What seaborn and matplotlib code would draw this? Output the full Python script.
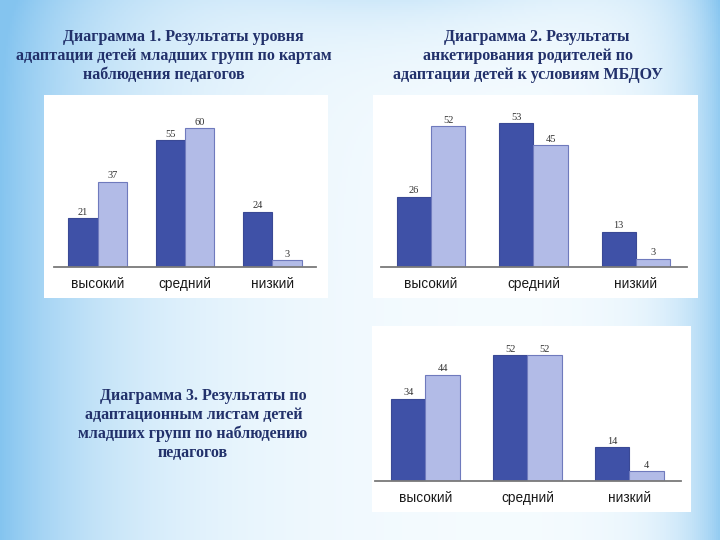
import numpy as np
import pandas as pd
import matplotlib
matplotlib.use('Agg')
import matplotlib.pyplot as plt
import seaborn as sns
from matplotlib.patches import Rectangle

# data
levels = ['высокий', 'средний', 'низкий']
series = ['ряд 1', 'ряд 2']
chart1_s1 = [21, 55, 24]
chart1_s2 = [37, 60, 3]
chart2_s1 = [26, 53, 13]
chart2_s2 = [52, 45, 3]
chart3_s1 = [34, 52, 14]
chart3_s2 = [44, 52, 4]

title1 = ['Диаграмма 1. Результаты уровня',
          'адаптации детей младших групп по картам',
          'наблюдения педагогов']
title2 = ['Диаграмма 2. Результаты',
          'анкетирования родителей по',
          'адаптации детей к условиям МБДОУ']
title3 = ['Диаграмма 3. Результаты по',
          'адаптационным листам детей',
          'младших групп по наблюдению',
          'педагогов']

W, H = 720, 540
DARK = '#3f51a7'
LIGHT = '#b2bbe7'
TITLE_COLOR = '#22316b'

sns.set_theme(style='white')
plt.rcParams['font.family'] = ['Liberation Sans', 'DejaVu Sans']


def px_box(x0, y0, x1, y1):
    """Pixel box (top-left origin) -> figure fraction rect."""
    return [x0 / W, (H - y1) / H, (x1 - x0) / W, (y1 - y0) / H]


fig = plt.figure(figsize=(7.2, 5.4), dpi=100)

# slide background: light blue edges fading into white
bg = fig.add_axes([0, 0, 1, 1])
xs = np.linspace(0, 1, 360)
ys = np.linspace(0, 1, 270)
X, Y = np.meshgrid(xs, ys)
blue = np.array([0.52, 0.77, 0.94])
white = np.array([0.97, 0.99, 1.0])
w = np.clip(np.exp(-X / 0.17) + 0.85 * np.exp(-(1 - X) / 0.06)
            + 0.3 * np.exp(-Y / 0.07) * (0.4 + 0.6 * np.exp(-((X - 0.55) / 0.2) ** 2)), 0, 1)
img = white[None, None, :] * (1 - w[..., None]) + blue[None, None, :] * w[..., None]
bg.imshow(img, extent=[0, 1, 0, 1], aspect='auto', origin='upper')
bg.set_xlim(0, 1)
bg.set_ylim(0, 1)
bg.axis('off')

# white chart panels
for (x0, y0, x1, y1) in [(44, 95, 328, 298), (373, 95, 698, 298), (372, 326, 691, 512)]:
    r = px_box(x0, y0, x1, y1)
    bg.add_patch(Rectangle((r[0], r[1]), r[2], r[3], facecolor='white',
                           edgecolor='none', transform=bg.transAxes))


def draw_chart(rect, s1, s2, ymax, xlim):
    ax = fig.add_axes(rect)
    df = pd.DataFrame({
        'level': levels * 2,
        'series': [series[0]] * 3 + [series[1]] * 3,
        'value': s1 + s2,
    })
    sns.barplot(data=df, x='level', y='value', hue='series', order=levels,
                hue_order=series, palette=[DARK, LIGHT], width=0.67,
                saturation=1, legend=False, ax=ax)
    for cont, ec in zip(ax.containers, ['#3a4995', '#6f7abd']):
        for b in cont:
            b.set_edgecolor(ec)
            b.set_linewidth(0.8)
        ax.bar_label(cont, padding=1, fontsize=7.5, color='#333333',
                     family='Liberation Serif')
    ax.set_xlim(*xlim)
    ax.set_ylim(0, ymax)
    ax.set_facecolor('none')
    ax.set_xlabel('')
    ax.set_ylabel('')
    ax.set_yticks([])
    for s in ['top', 'left', 'right']:
        ax.spines[s].set_visible(False)
    ax.spines['bottom'].set_color('#7a7a7a')
    ax.spines['bottom'].set_linewidth(1.3)
    ax.tick_params(axis='x', length=0, pad=7, labelsize=9.8, labelcolor='#1a1a1a')
    return ax


draw_chart(px_box(54, 100, 316, 267), chart1_s1, chart1_s2, 167 / 2.31, (-0.50, 2.50))
draw_chart(px_box(381, 100, 687, 267), chart2_s1, chart2_s2, 167 / 2.71, (-0.49, 2.50))
draw_chart(px_box(375, 330, 681, 481), chart3_s1, chart3_s2, 151 / 2.42, (-0.495, 2.505))


def draw_title(lines, centers, y_first, step=19):
    for i, (line, cx) in enumerate(zip(lines, centers)):
        fig.text(cx / W, 1 - (y_first + i * step) / H, line, ha='center', va='center',
                 fontsize=11.5, fontweight='bold', color=TITLE_COLOR,
                 family='Liberation Serif')


draw_title(title1, [183, 174, 164], 37)
draw_title(title2, [537, 528, 528], 37)
draw_title(title3, [203, 194, 193, 193], 396)

fig.savefig('out.png', dpi=100)
